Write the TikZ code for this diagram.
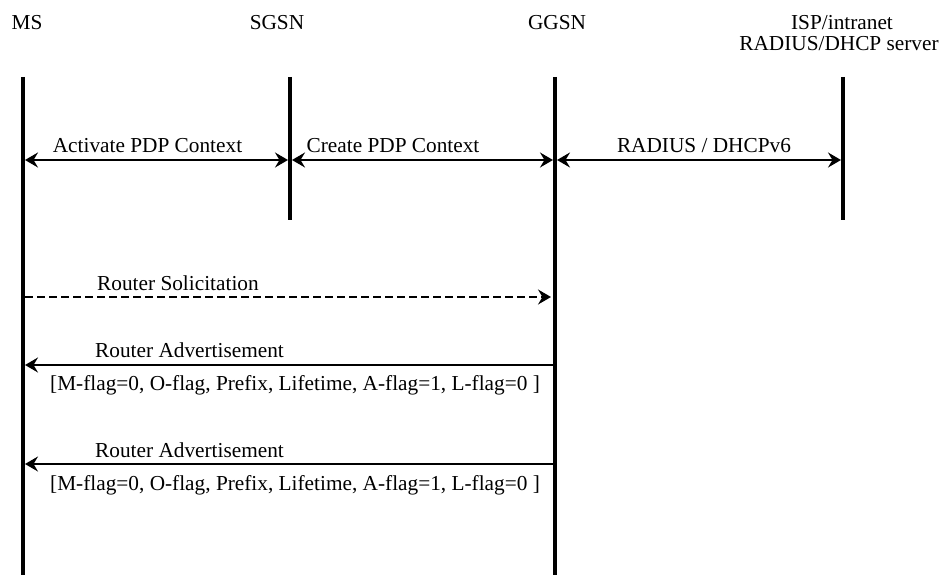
\documentclass[tikz,border=0pt]{standalone}
\usepackage{fontspec}
\setmainfont{Liberation Serif}
\usetikzlibrary{arrows.meta}
\begin{document}
\begin{tikzpicture}[x=1pt,y=-1pt,
  font=\fontsize{21.3}{21}\selectfont,
  every node/.style={inner sep=0pt},
  >={Stealth[length=13pt,width=15pt,inset=4.5pt]},
  life/.style={line width=4pt},
  msg/.style={line width=1.8pt}]
  \useasboundingbox (0,0) rectangle (939,575);

  % entities
  \node[anchor=base] (ms) at (27,30) {MS};
  \node[anchor=base] (sgsn) at (277,30) {SGSN};
  \node[anchor=base] (ggsn) at (557,30) {GGSN};
  \node[anchor=base] (isp) at (842,30) {ISP/intranet};
  \node[anchor=base] (server) at (839,51) {RADIUS/DHCP server};

  % lifelines
  \coordinate (ms top) at (23,77);   \coordinate (ms bot) at (23,575);
  \coordinate (sgsn top) at (290,77); \coordinate (sgsn bot) at (290,220);
  \coordinate (ggsn top) at (555,77); \coordinate (ggsn bot) at (555,575);
  \coordinate (isp top) at (843,77);  \coordinate (isp bot) at (843,220);
  \draw[life] (ms top) -- (ms bot);
  \draw[life] (sgsn top) -- (sgsn bot);
  \draw[life] (ggsn top) -- (ggsn bot);
  \draw[life] (isp top) -- (isp bot);

  % PDP context activation
  \coordinate (act1) at (25,160);  \coordinate (act2) at (288,160);
  \coordinate (cre1) at (292,160); \coordinate (cre2) at (553,160);
  \coordinate (rad1) at (557,160); \coordinate (rad2) at (841,160);
  \draw[msg,<->] (act1) -- (act2);
  \draw[msg,<->] (cre1) -- (cre2);
  \draw[msg,<->] (rad1) -- (rad2);
  \node[anchor=base] (act) at (147.5,153) {Activate PDP Context};
  \node[anchor=base] (cre) at (393,153) {Create PDP Context};
  \node[anchor=base] (rad) at (704,153) {RADIUS / DHCPv6};

  % router solicitation
  \coordinate (rs1) at (25,297); \coordinate (rs2) at (551,297);
  \draw[msg,dash pattern=on 8pt off 4pt,->] (rs1) -- (rs2);
  \node[anchor=base west] (rs) at (97,290) {Router Solicitation};

  % router advertisements
  \coordinate (ra1) at (553,365); \coordinate (ra2) at (25,365);
  \draw[msg,->] (ra1) -- (ra2);
  \node[anchor=base west] (ra) at (95,357) {Router Advertisement};
  \node[anchor=base west] (raflags) at (50,390) {[M-flag=0, O-flag, Prefix, Lifetime, A-flag=1, L-flag=0 ]};

  \coordinate (rb1) at (553,464); \coordinate (rb2) at (25,464);
  \draw[msg,->] (rb1) -- (rb2);
  \node[anchor=base west] (rb) at (95,457) {Router Advertisement};
  \node[anchor=base west] (rbflags) at (50,490) {[M-flag=0, O-flag, Prefix, Lifetime, A-flag=1, L-flag=0 ]};
\end{tikzpicture}
\end{document}
